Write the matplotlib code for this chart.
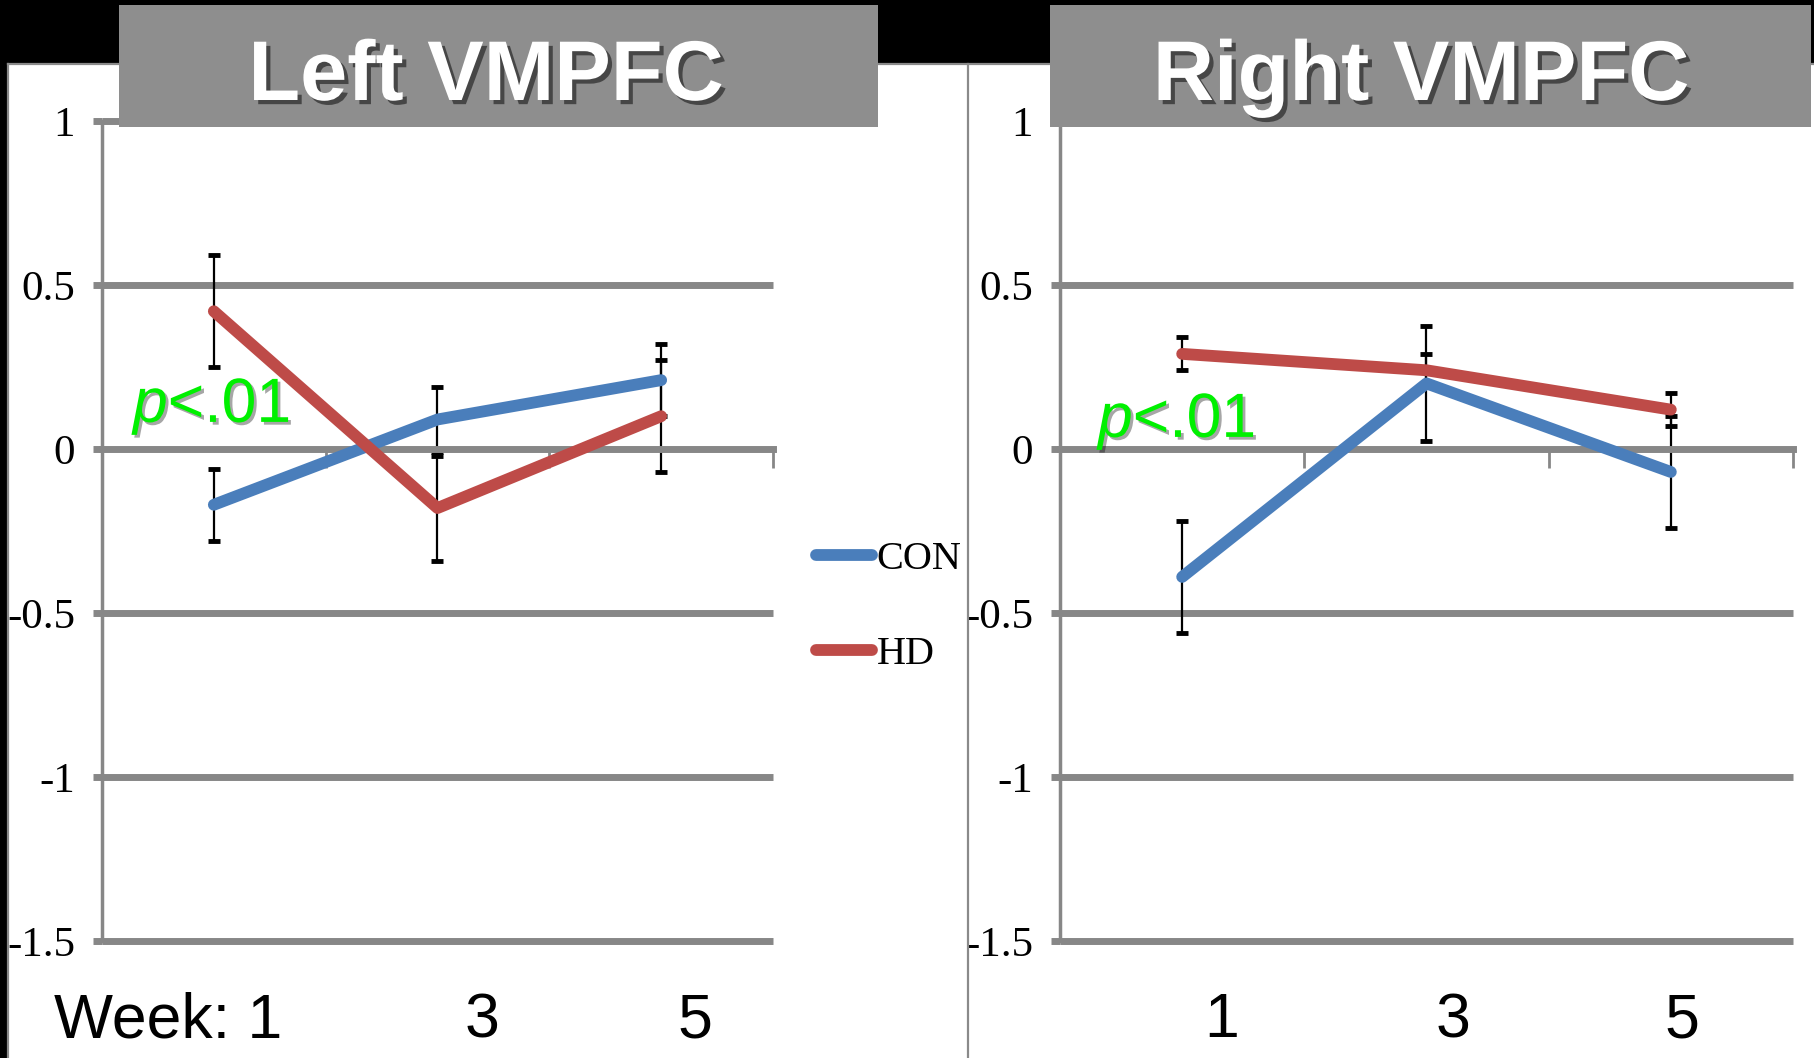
import numpy as np
import matplotlib.pyplot as plt
import matplotlib.patheffects as pe
from matplotlib.patches import Rectangle
from matplotlib.lines import Line2D
from matplotlib.transforms import blended_transform_factory

plt.rcParams['mathtext.fontset'] = 'custom'
plt.rcParams['mathtext.it'] = 'Liberation Sans:italic'
plt.rcParams['mathtext.rm'] = 'Liberation Sans'

# data
weeks = ['1', '3', '5']
groups = ['CON', 'HD']
left_con = [-0.17, 0.09, 0.21]
left_con_err = [0.11, 0.10, 0.11]
left_hd = [0.42, -0.18, 0.10]
left_hd_err = [0.17, 0.16, 0.17]
right_con = [-0.39, 0.20, -0.07]
right_con_err = [0.17, 0.175, 0.17]
right_hd = [0.29, 0.24, 0.12]
right_hd_err = [0.05, 0.05, 0.05]
yticks = [1, 0.5, 0, -0.5, -1, -1.5]
ytick_labels = ['1', '0.5', '0', '-0.5', '-1', '-1.5']

W, H = 1815, 1058
BLUE = '#4a7ebb'
RED = '#be4b48'
GRID = '#878787'


def fx(px):
    return px / W


def fy(py):
    return 1 - py / H


fig = plt.figure(figsize=(W / 100, H / 100), dpi=100, facecolor='white')

# black background strips and panel borders
fig.add_artist(Rectangle((0, fy(63)), 1, 1 - fy(63), transform=fig.transFigure,
                         facecolor='black', edgecolor='none', zorder=0))
fig.add_artist(Rectangle((0, 0), fx(8), 1, transform=fig.transFigure,
                         facecolor='black', edgecolor='none', zorder=0))
for xs, ys in [((fx(8), 1), (fy(64), fy(64))),
               ((fx(8), fx(8)), (0, fy(64))),
               ((fx(968), fx(968)), (0, fy(64)))]:
    fig.add_artist(Line2D(xs, ys, transform=fig.transFigure, color='#8a8a8a', lw=1.6, zorder=1))


def panel(ax, con, con_err, hd, hd_err, week_labels, label_pos):
    x = np.arange(len(weeks))
    ax.errorbar(x, con, yerr=con_err, fmt='none', ecolor='black', elinewidth=1.6,
                capsize=4, capthick=3.5, zorder=2)
    ax.errorbar(x, hd, yerr=hd_err, fmt='none', ecolor='black', elinewidth=1.6,
                capsize=4, capthick=3.5, zorder=2)
    ax.plot(x, con, color=BLUE, lw=8.5, solid_capstyle='round', solid_joinstyle='round',
            zorder=3, label=groups[0])
    ax.plot(x, hd, color=RED, lw=8.5, solid_capstyle='round', solid_joinstyle='round',
            zorder=3, label=groups[1])
    ax.set_xlim(-0.5, 2.5)
    ax.set_ylim(-1.5, 1)
    ax.set_facecolor('none')
    for yv in yticks:
        if yv != 0:
            ax.axhline(yv, color=GRID, lw=5, zorder=1, clip_on=False, solid_capstyle='butt')
    ax.set_yticks(yticks)
    ax.set_yticklabels(ytick_labels, family='Liberation Serif', fontsize=31)
    ax.tick_params(axis='y', length=6.5, width=5, color=GRID, pad=13, direction='out')
    ax.set_xticks([])
    ax.set_xticks([0.5, 1.5, 2.5], minor=True)
    ax.tick_params(axis='x', which='minor', length=14, width=2, color=GRID,
                   direction='out', labelbottom=False)
    ax.spines['top'].set_visible(False)
    ax.spines['right'].set_visible(False)
    ax.spines['bottom'].set_position(('data', 0))
    ax.spines['bottom'].set_color(GRID)
    ax.spines['bottom'].set_linewidth(5)
    ax.spines['left'].set_color(GRID)
    ax.spines['left'].set_linewidth(2.5)
    tr = blended_transform_factory(ax.transData, fig.transFigure)
    for lab, xp in zip(week_labels, label_pos):
        ax.text(xp, fy(1037), lab, transform=tr, ha='center', va='baseline',
                fontsize=45, family='Liberation Sans', color='black')


ax1 = fig.add_axes([fx(102), fy(941), (773 - 102) / W, (941 - 121) / H])
ax2 = fig.add_axes([fx(1060), fy(941), (1793 - 1060) / W, (941 - 121) / H])
panel(ax1, left_con, left_con_err, left_hd, left_hd_err,
      ['Week: 1', weeks[1], weeks[2]], [-0.205, 1.2, 2.15])
panel(ax2, right_con, right_con_err, right_hd, right_hd_err,
      weeks, [0.16, 1.11, 2.045])

# title boxes
shadow = [pe.withSimplePatchShadow(offset=(3, -3), shadow_rgbFace='black', alpha=0.5)]
for (x0, x1, xc, title) in [(119, 878, 486, 'Left VMPFC'), (1050, 1811, 1421, 'Right VMPFC')]:
    fig.add_artist(Rectangle((fx(x0), fy(127)), fx(x1) - fx(x0), fy(5) - fy(127),
                             transform=fig.transFigure, facecolor='#8e8e8e',
                             edgecolor='none', zorder=5))
    fig.text(fx(xc), fy(100), title, ha='center', va='baseline', fontsize=61,
             fontweight='bold', color='white', family='Liberation Sans', zorder=6,
             path_effects=shadow)

# significance labels
for xl, yb in [(133, 422), (1098, 437)]:
    fig.text(fx(xl), fy(yb), r'$p$<.01', ha='left', va='baseline', fontsize=45,
             color='#00f000', family='Liberation Sans', zorder=6,
             path_effects=[pe.withSimplePatchShadow(offset=(2, -2), shadow_rgbFace='black', alpha=0.35)])

# legend
h, l = ax1.get_legend_handles_labels()
fig.legend(h, l, loc='center left', bbox_to_anchor=(fx(816), fy(607)),
           bbox_transform=fig.transFigure, frameon=False, borderpad=0, borderaxespad=0,
           handlelength=1.4, handletextpad=0.1, labelspacing=1.45,
           prop={'family': 'Liberation Serif', 'size': 29})

fig.savefig('out.png', dpi=100, facecolor='white')
